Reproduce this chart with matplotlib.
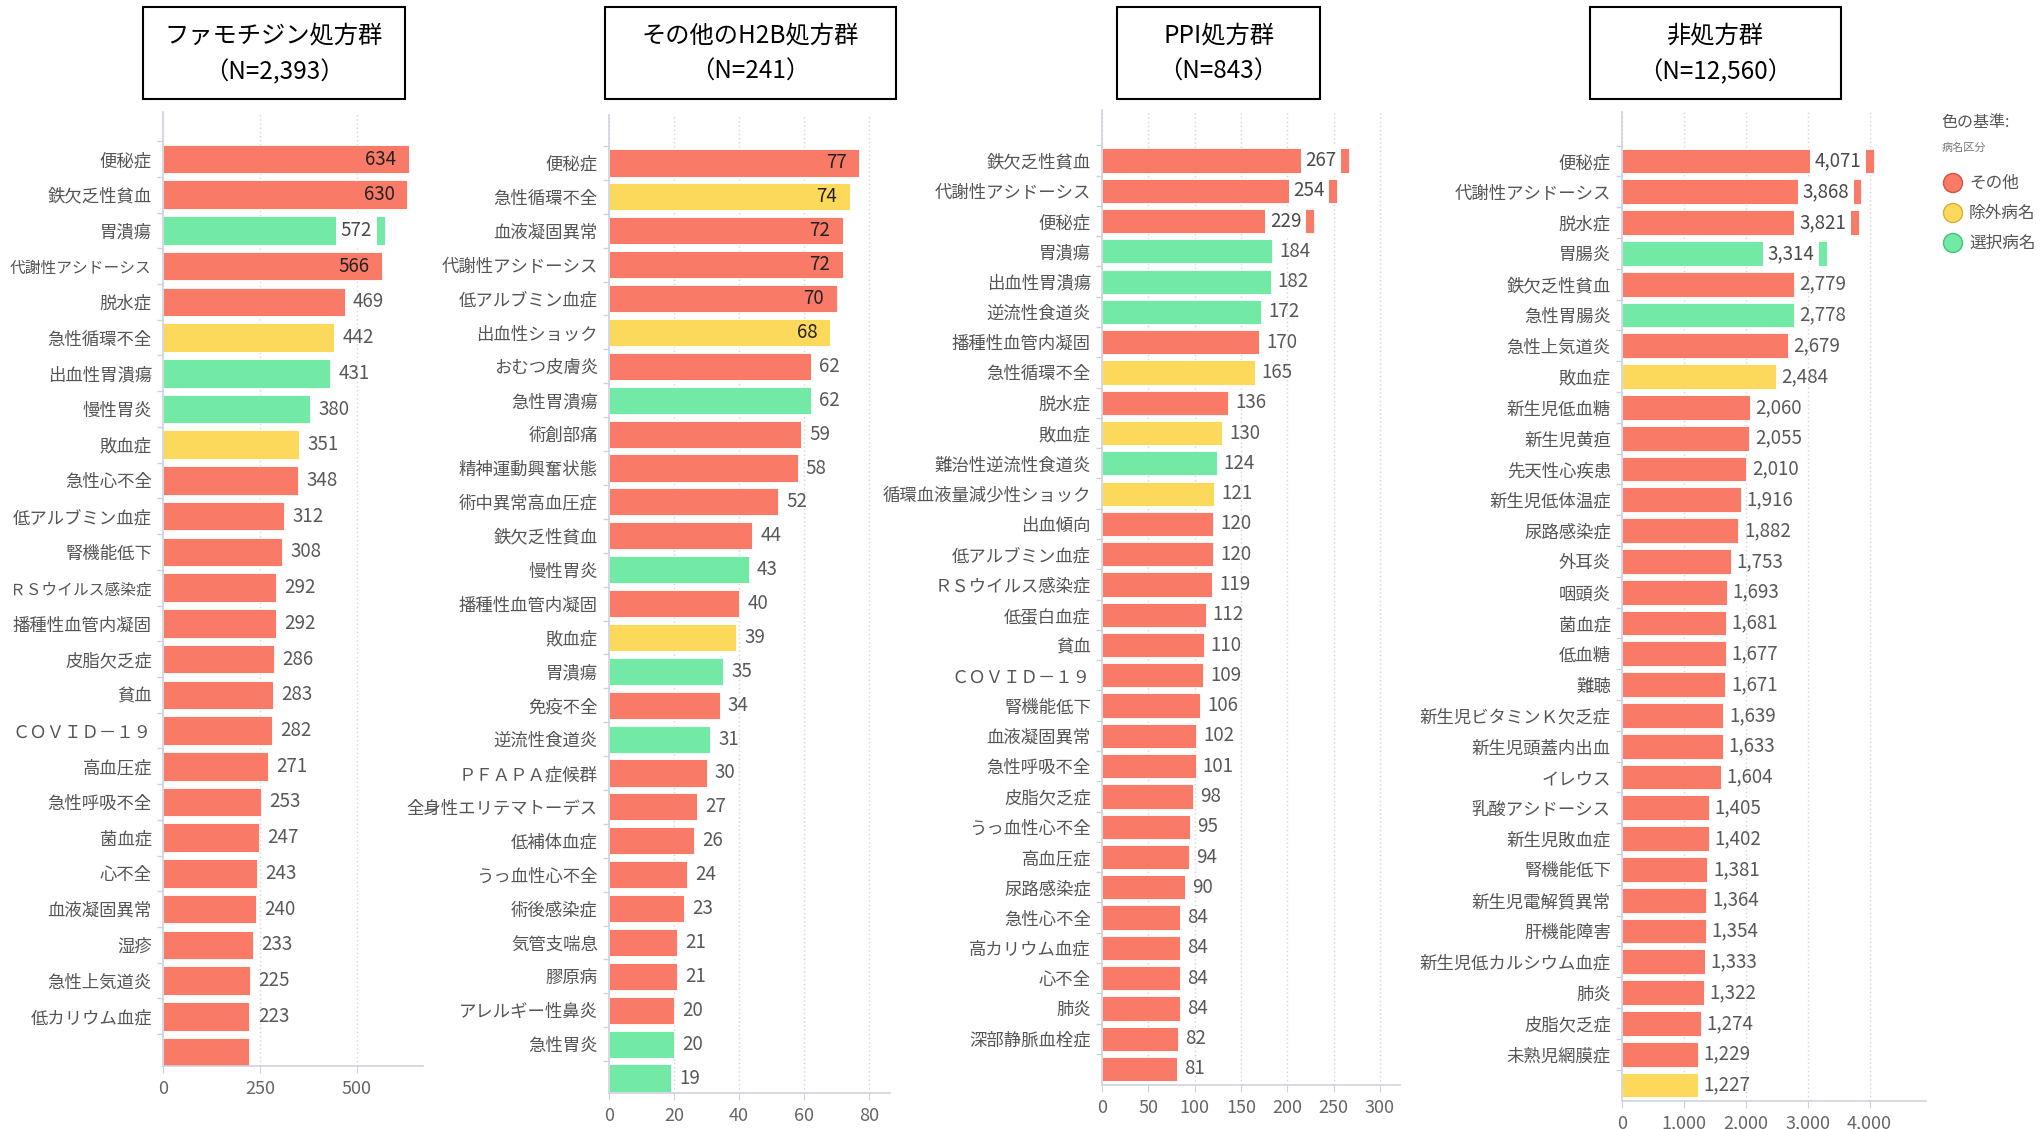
import matplotlib
matplotlib.use("Agg")
import matplotlib.pyplot as plt
from matplotlib.patches import Rectangle, Ellipse
from matplotlib.ticker import FuncFormatter

plt.rcParams['font.family'] = ['Noto Sans CJK JP', 'DejaVu Sans']

# ---------------- data ----------------
titles = ["ファモチジン処方群\n（N=2,393）", "その他のH2B処方群\n（N=241）",
          "PPI処方群\n（N=843）", "非処方群\n（N=12,560）"]

cats1 = ["便秘症", "鉄欠乏性貧血", "胃潰瘍", "代謝性アシドーシス", "脱水症", "急性循環不全",
         "出血性胃潰瘍", "慢性胃炎", "敗血症", "急性心不全", "低アルブミン血症", "腎機能低下",
         "ＲＳウイルス感染症", "播種性血管内凝固", "皮脂欠乏症", "貧血", "ＣＯＶＩＤ－１９",
         "高血圧症", "急性呼吸不全", "菌血症", "心不全", "血液凝固異常", "湿疹", "急性上気道炎",
         "低カリウム血症", ""]
vals1 = [634, 630, 572, 566, 469, 442, 431, 380, 351, 348, 312, 308, 292, 292, 286, 283, 282,
         271, 253, 247, 243, 240, 233, 225, 223, 222]
grp1 = ["R", "R", "G", "R", "R", "Y", "G", "G", "Y", "R", "R", "R", "R", "R", "R", "R", "R",
        "R", "R", "R", "R", "R", "R", "R", "R", "R"]

cats2 = ["便秘症", "急性循環不全", "血液凝固異常", "代謝性アシドーシス", "低アルブミン血症",
         "出血性ショック", "おむつ皮膚炎", "急性胃潰瘍", "術創部痛", "精神運動興奮状態",
         "術中異常高血圧症", "鉄欠乏性貧血", "慢性胃炎", "播種性血管内凝固", "敗血症", "胃潰瘍",
         "免疫不全", "逆流性食道炎", "ＰＦＡＰＡ症候群", "全身性エリテマトーデス", "低補体血症",
         "うっ血性心不全", "術後感染症", "気管支喘息", "膠原病", "アレルギー性鼻炎", "急性胃炎", ""]
vals2 = [77, 74, 72, 72, 70, 68, 62, 62, 59, 58, 52, 44, 43, 40, 39, 35, 34, 31, 30, 27, 26,
         24, 23, 21, 21, 20, 20, 19]
grp2 = ["R", "Y", "R", "R", "R", "Y", "R", "G", "R", "R", "R", "R", "G", "R", "Y", "G", "R",
        "G", "R", "R", "R", "R", "R", "R", "R", "R", "G", "G"]

cats3 = ["鉄欠乏性貧血", "代謝性アシドーシス", "便秘症", "胃潰瘍", "出血性胃潰瘍", "逆流性食道炎",
         "播種性血管内凝固", "急性循環不全", "脱水症", "敗血症", "難治性逆流性食道炎",
         "循環血液量減少性ショック", "出血傾向", "低アルブミン血症", "ＲＳウイルス感染症",
         "低蛋白血症", "貧血", "ＣＯＶＩＤ－１９", "腎機能低下", "血液凝固異常", "急性呼吸不全",
         "皮脂欠乏症", "うっ血性心不全", "高血圧症", "尿路感染症", "急性心不全", "高カリウム血症",
         "心不全", "肺炎", "深部静脈血栓症", ""]
vals3 = [267, 254, 229, 184, 182, 172, 170, 165, 136, 130, 124, 121, 120, 120, 119, 112, 110,
         109, 106, 102, 101, 98, 95, 94, 90, 84, 84, 84, 84, 82, 81]
grp3 = ["R", "R", "R", "G", "G", "G", "R", "Y", "R", "Y", "G", "Y", "R", "R", "R", "R", "R",
        "R", "R", "R", "R", "R", "R", "R", "R", "R", "R", "R", "R", "R", "R"]

cats4 = ["便秘症", "代謝性アシドーシス", "脱水症", "胃腸炎", "鉄欠乏性貧血", "急性胃腸炎",
         "急性上気道炎", "敗血症", "新生児低血糖", "新生児黄疸", "先天性心疾患", "新生児低体温症",
         "尿路感染症", "外耳炎", "咽頭炎", "菌血症", "低血糖", "難聴", "新生児ビタミンＫ欠乏症",
         "新生児頭蓋内出血", "イレウス", "乳酸アシドーシス", "新生児敗血症", "腎機能低下",
         "新生児電解質異常", "肝機能障害", "新生児低カルシウム血症", "肺炎", "皮脂欠乏症",
         "未熟児網膜症", ""]
vals4 = [4071, 3868, 3821, 3314, 2779, 2778, 2679, 2484, 2060, 2055, 2010, 1916, 1882, 1753,
         1693, 1681, 1677, 1671, 1639, 1633, 1604, 1405, 1402, 1381, 1364, 1354, 1333, 1322,
         1274, 1229, 1227]
grp4 = ["R", "R", "R", "G", "R", "G", "R", "Y", "R", "R", "R", "R", "R", "R", "R", "R", "R",
        "R", "R", "R", "R", "R", "R", "R", "R", "R", "R", "R", "R", "R", "Y"]

ticks1 = [0, 250, 500]
ticks2 = [0, 20, 40, 60, 80]
ticks3 = [0, 50, 100, 150, 200, 250, 300]
ticks4 = [0, 1000, 2000, 3000, 4000]

legend_title = "色の基準:"
legend_sub = "病名区分"
legend_names = ["その他", "除外病名", "選択病名"]
legend_keys = ["R", "Y", "G"]

COLORS = {"R": "#F97A66", "Y": "#FDD95B", "G": "#72E9A4"}
EDGE = {"R": "#D9503F", "Y": "#D4B035", "G": "#45C47A"}

W, H = 2043, 1129
fig = plt.figure(figsize=(W / 100, H / 100), dpi=100)
fig.patch.set_facecolor("white")


def fx(x):
    return x / W


def fy(y):
    return 1 - y / H


LABEL_C = "#555555"
GRID_C = "#D5D5D5"
SPINE_C = "#CDD3DE"


def panel(left, right, top, bottom, px_per_unit, first_c, last_c, cats, vals, grp,
          ticks, inside, out_off, comma=False, boxed=(), show_last_val=True,
          long_size=None):
    n = len(vals)
    pitch = (last_c - first_c) / (n - 1)
    xmax = (right - left) / px_per_unit
    ax = fig.add_axes([fx(left), fy(bottom), (right - left) / W, (bottom - top) / H])
    ypos = list(range(n))
    ax.barh(ypos, vals, height=0.8, color=[COLORS[g] for g in grp],
            edgecolor="white", linewidth=0.6, zorder=2)
    ax.set_xlim(0, xmax)
    ax.set_ylim((n - 1) + (bottom - last_c) / pitch, -(first_c - top) / pitch)
    ax.set_yticks(ypos)
    ax.set_yticklabels(cats, fontsize=12.5, color=LABEL_C)
    if long_size:
        for lab in ax.get_yticklabels():
            if len(lab.get_text()) >= 9:
                lab.set_fontsize(long_size)
    ax.set_yticks([i + 0.5 for i in range(-1, n - 1)], minor=True)
    ax.tick_params(axis="y", which="major", length=0, pad=8)
    ax.tick_params(axis="y", which="minor", length=4, color=SPINE_C, width=1)
    ax.set_xticks(ticks)
    fmt = (lambda v, p: f"{int(v):,}") if comma else (lambda v, p: f"{int(v)}")
    ax.xaxis.set_major_formatter(FuncFormatter(fmt))
    ax.tick_params(axis="x", length=5, color=SPINE_C, labelsize=13, labelcolor="#666666", pad=5)
    ax.grid(axis="x", linestyle=(0, (1, 2)), color=GRID_C, linewidth=1, zorder=0)
    for s in ["top", "right"]:
        ax.spines[s].set_visible(False)
    for s in ["left", "bottom"]:
        ax.spines[s].set_color(SPINE_C)
        ax.spines[s].set_linewidth(1.2)
    for i, v in enumerate(vals):
        if i == n - 1 and not show_last_val:
            continue
        txt = f"{v:,}" if comma else f"{v}"
        if i in boxed:
            ax.annotate(txt, (v, i), xytext=(-9, 0), textcoords="offset points",
                        ha="right", va="center", fontsize=13.5, color="#4a4a4a", zorder=3,
                        bbox=dict(boxstyle="square,pad=0.25", fc="white", ec="none"))
        elif i < inside:
            ax.annotate(txt, (v, i), xytext=(-9, 0), textcoords="offset points",
                        ha="right", va="center", fontsize=13.5, color="#222222", zorder=3)
        else:
            ax.annotate(txt, (v, i), xytext=(out_off, 0), textcoords="offset points",
                        ha="left", va="center", fontsize=13.5, color="#595959", zorder=3)
    return ax


panel(163, 423, 112, 1066, 0.3876, 159, 1052, cats1, vals1, grp1, ticks1,
      inside=4, out_off=6, boxed=(2,), show_last_val=False, long_size=11.3)
panel(609, 890, 115, 1093, 3.25, 163, 1078, cats2, vals2, grp2, ticks2,
      inside=6, out_off=6)
panel(1102, 1400, 110, 1085, 0.926, 160.5, 1069, cats3, vals3, grp3, ticks3,
      inside=0, out_off=5, boxed=(0, 1, 2))
panel(1622, 1926, 112, 1101, 0.0619, 161, 1085, cats4, vals4, grp4, ticks4,
      inside=0, out_off=4, comma=True, boxed=(0, 1, 2, 3))

# title boxes
boxes = [(143, 405), (605, 896), (1117, 1320), (1590, 1841)]
for (x0, x1), t in zip(boxes, titles):
    fig.add_artist(Rectangle((fx(x0), fy(99)), (x1 - x0) / W, (99 - 7) / H,
                             transform=fig.transFigure, fill=False, ec="black", lw=1.5))
    l1, l2 = t.split("\n")
    fig.text(fx((x0 + x1) / 2), fy(35), l1, ha="center", va="center", fontsize=17.5, color="black")
    fig.text(fx((x0 + x1) / 2), fy(72), l2, ha="center", va="center", fontsize=17.5, color="black")

# legend
fig.text(fx(1941), fy(123), legend_title, ha="left", va="center", fontsize=11.5, color="#555555")
fig.text(fx(1942), fy(148), legend_sub, ha="left", va="center", fontsize=8, color="#777777")
for k, (name, key) in enumerate(zip(legend_names, legend_keys)):
    yc = 183 + 30 * k
    fig.add_artist(Ellipse((fx(1953), fy(yc)), 19 / W, 19 / H, transform=fig.transFigure,
                           fc=COLORS[key], ec=EDGE[key], lw=1))
    fig.text(fx(1969), fy(yc), name, ha="left", va="center", fontsize=12, color="#555555")

fig.savefig("out.png", dpi=100, facecolor="white")
